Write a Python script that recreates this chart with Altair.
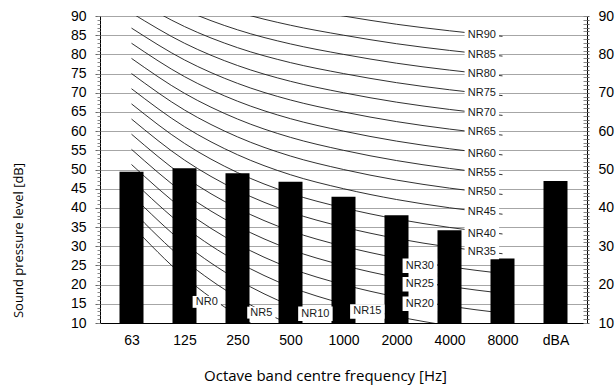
import altair as alt
import pandas as pd

# ---------------- data ----------------
categories = ["63", "125", "250", "500", "1000", "2000", "4000", "8000", "dBA"]
bar_values = [49.4, 50.3, 49.0, 46.8, 42.9, 38.1, 34.2, 26.8, 47.0]

nr_numbers = [0, 5, 10, 15, 20, 25, 30, 35, 40, 45, 50, 55, 60, 65, 70, 75, 80, 85, 90]
nr_63 = [35.5, 39.45, 43.4, 47.35, 51.3, 55.25, 59.2, 63.15, 67.1, 71.05, 75.0, 78.95, 82.9, 86.85, 90.8, 94.75, 98.7, 102.65, 106.6]
nr_125 = [22.0, 26.35, 30.7, 35.05, 39.4, 43.75, 48.1, 52.45, 56.8, 61.15, 65.5, 69.85, 74.2, 78.55, 82.9, 87.25, 91.6, 95.95, 100.3]
nr_250 = [12.0, 16.65, 21.3, 25.95, 30.6, 35.25, 39.9, 44.55, 49.2, 53.85, 58.5, 63.15, 67.8, 72.45, 77.1, 81.75, 86.4, 91.05, 95.7]
nr_500 = [4.8, 9.67, 14.54, 19.41, 24.28, 29.15, 34.02, 38.89, 43.76, 48.63, 53.5, 58.37, 63.24, 68.11, 72.98, 77.85, 82.72, 87.59, 92.46]
nr_1000 = [0, 5, 10, 15, 20, 25, 30, 35, 40, 45, 50, 55, 60, 65, 70, 75, 80, 85, 90]
nr_2000 = [-3.5, 1.58, 6.65, 11.73, 16.8, 21.88, 26.95, 32.03, 37.1, 42.18, 47.25, 52.33, 57.4, 62.48, 67.55, 72.63, 77.7, 82.78, 87.85]
nr_4000 = [-6.1, -0.98, 4.15, 9.28, 14.4, 19.53, 24.65, 29.78, 34.9, 40.03, 45.15, 50.28, 55.4, 60.53, 65.65, 70.78, 75.9, 81.03, 86.15]
nr_8000 = [-8.0, -2.85, 2.3, 7.45, 12.6, 17.75, 22.9, 28.05, 33.2, 38.35, 43.5, 48.65, 53.8, 58.95, 64.1, 69.25, 74.4, 79.55, 84.7]

label_text = ["NR90", "NR85", "NR80", "NR75", "NR70", "NR65", "NR60", "NR55", "NR50",
              "NR45", "NR40", "NR35", "NR30", "NR25", "NR20", "NR15", "NR10", "NR5", "NR0"]
label_band = [6.61, 6.61, 6.61, 6.61, 6.61, 6.61, 6.61, 6.61, 6.61,
              6.61, 6.61, 6.61, 5.44, 5.44, 5.44, 4.45, 3.47, 2.45, 1.42]
label_level = [85.0, 79.8, 74.9, 69.9, 64.7, 59.7, 54.0, 49.0, 44.1,
               38.9, 33.1, 28.5, 24.9, 20.1, 15.0, 13.0, 12.4, 12.7, 15.5]

y_major = [10, 15, 20, 25, 30, 35, 40, 45, 50, 55, 60, 65, 70, 75, 80, 85, 90]
y_right = [10, 20, 30, 40, 50, 60, 70, 80, 90]
y_minor = list(range(10, 91))

# ---------------- tables ----------------
bands = [nr_63, nr_125, nr_250, nr_500, nr_1000, nr_2000, nr_4000, nr_8000]
bars_df = pd.DataFrame({"idx": list(range(len(categories))), "cat": categories, "value": bar_values})
rows = []
for k, n in enumerate(nr_numbers):
    for b, arr in enumerate(bands):
        rows.append({"curve": f"NR{n}", "idx": b, "level": arr[k]})
lines_df = pd.DataFrame(rows)
labels_df = pd.DataFrame({"text": label_text, "idx": label_band, "level": label_level})
labels_df["box"] = labels_df["text"].str.len().map({3: 800, 4: 1190})

W, H = 487, 307
x_scale = alt.Scale(domain=[-0.5, len(categories) - 0.5], nice=False, zero=False)
y_scale = alt.Scale(domain=[10, 90], nice=False, zero=False)

label_expr = "[" + ",".join(f"'{c}'" for c in categories) + "][datum.value]"

x_axis = alt.Axis(
    values=list(range(len(categories))), labelExpr=label_expr,
    title="Octave band centre frequency [Hz]", grid=False, ticks=False,
    domain=True, domainColor="black", domainWidth=1,
    labelFont="Liberation Sans", labelFontSize=14, labelColor="black", labelPadding=10,
    titleFont="Open Sans", titleFontSize=15, titleFontWeight="normal", titleColor="black",
    titleX=225, titleY=52, titleAlign="center", titleBaseline="middle",
)
y_axis = alt.Axis(
    orient="left", values=y_major, grid=True, gridColor="#a6a6a6", gridWidth=1,
    tickSize=5, tickColor="#666666", domain=True, domainColor="black",
    labelFont="Liberation Sans", labelFontSize=14, labelColor="black", labelPadding=9,
    title="Sound pressure level [dB]", titleFont="Open Sans", titleFontSize=13,
    titleFontWeight="normal", titleColor="black", titleAngle=270,
    titleX=-82, titleY=224, titleAlign="center", titleBaseline="middle",
)

X = alt.X("idx:Q", scale=x_scale, axis=x_axis)
Y = alt.Y("level:Q", scale=y_scale, axis=y_axis)

lines = alt.Chart(lines_df).mark_line(
    color="#1a1a1a", strokeWidth=0.9, clip=True, interpolate="monotone"
).encode(x=X, y=Y, detail="curve:N")
bars = alt.Chart(bars_df).mark_bar(size=24, color="black", clip=True).encode(
    x=X, y=alt.Y("value:Q", scale=y_scale, axis=y_axis), y2=alt.datum(10)
)
boxes = alt.Chart(labels_df).mark_point(
    shape="M-1,-0.42H1V0.42H-1Z", filled=True, color="white", opacity=1, strokeWidth=0
).encode(x=X, y=Y, size=alt.Size("box:Q", scale=None, legend=None))
texts = alt.Chart(labels_df).mark_text(
    font="Liberation Sans", fontSize=11, color="#1a1a1a", align="center", baseline="middle"
).encode(x=X, y=Y, text="text:N")

main = alt.layer(lines, bars, boxes, texts)


def tick_layer(axis):
    return alt.Chart(bars_df).mark_point(opacity=0).encode(
        y=alt.Y("value:Q", scale=y_scale, axis=axis)
    )


left_minor = tick_layer(alt.Axis(orient="left", values=y_minor, grid=False, labels=False,
                                 domain=False, tickSize=3, tickColor="#888888", title=None))
right_major = tick_layer(alt.Axis(orient="right", values=y_right, grid=False, ticks=False,
                                  domain=True, domainColor="black",
                                  labelFont="Liberation Sans", labelFontSize=14,
                                  labelColor="black", labelPadding=11, title=None))
right_minor_out = tick_layer(alt.Axis(orient="right", values=y_minor, grid=False, labels=False,
                                      domain=False, tickSize=2, tickColor="#666666", title=None))
right_minor_in = tick_layer(alt.Axis(orient="right", values=y_minor, grid=False, labels=False,
                                     domain=False, tickSize=4, offset=-4, tickColor="#888888",
                                     title=None))

chart = alt.layer(main, left_minor, right_major, right_minor_out, right_minor_in).resolve_scale(
    y="independent"
).properties(
    width=W, height=H,
    autosize=alt.AutoSizeParams(type="none"),
    padding={"left": 100, "top": 16, "right": 28, "bottom": 62},
    background="white",
).configure_view(stroke=None)

chart.save("out.html", embed_options={"renderer": "svg", "actions": False})
